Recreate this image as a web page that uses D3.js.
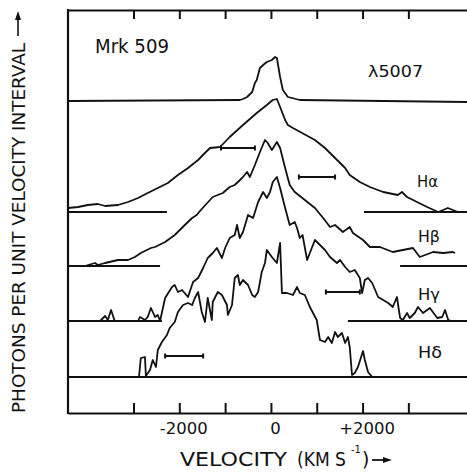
<!DOCTYPE html>
<html>
<head>
<meta charset="utf-8">
<script src="https://cdn.jsdelivr.net/npm/d3@7"></script>
<style>
  body { margin: 0; background: #fff; }
  text { font-family: "DejaVu Sans", sans-serif; fill: #111; }
</style>
</head>
<body>
<div id="chart"></div>
<script>
// Variables
var width = 467;
var height = 472;

// axis ticks (km/s)
var velocityTicks = [-3000, -2000, -1000, 0, 1000, 2000, 3000];
var labelledTicks = [-2000, 0, 2000];

// lines, top to bottom, and the vertical offset of each baseline (flux units)
var lineNames = ["λ5007", "Hα", "Hβ", "Hγ", "Hδ"];
var lineOffsets = [31.2, 20.1, 14.7, 9.2, 3.6];

// profiles: [velocity km/s, flux above baseline]
var o3Profile = [[-4430,0],[-680,0.1],[-610,0.2],[-520,0.4],[-410,0.9],[-350,1.8],[-310,2.1],[-240,3.3],
  [-170,3.6],[-90,3.9],[20,4.1],[90,4.4],[130,4.3],[200,2.4],[260,1.1],[370,0.4],[460,0.3],[630,0.1],[4280,-0.1]];

var haProfile = [[-4430,0.4],[-4210,0.5],[-4000,0.7],[-3780,0.8],[-3620,0.6],[-3340,0.7],[-3120,1.0],[-2900,1.4],
  [-2690,1.9],[-2470,2.4],[-2250,2.9],[-2030,3.7],[-1810,4.4],[-1590,5.2],[-1420,6.0],[-1330,6.4],[-1110,6.5],
  [-900,7.5],[-610,8.7],[-310,9.9],[-90,10.7],[40,11.2],[130,11.3],[200,10.5],[310,9.2],[370,8.7],[480,8.4],
  [680,7.9],[960,7.2],[1180,6.4],[1400,5.4],[1620,4.4],[1720,3.7],[1940,3.0],[2160,2.5],[2450,2.0],[2770,1.7],
  [2860,2.0],[2970,1.5],[3190,1.0],[3410,0.5],[3650,0.0],[3760,0.2],[3860,0.4],[3970,0.2],[4080,0.0]];

var hbProfile = [[-4060,0],[-3840,0.3],[-3780,0.1],[-3620,0.3],[-3340,0.6],[-3120,0.6],[-2970,0.9],[-2840,1.3],
  [-2620,1.8],[-2530,1.9],[-2310,2.4],[-2100,3.1],[-1880,4.1],[-1720,4.8],[-1620,5.1],[-1530,5.6],[-1270,6.9],
  [-1050,7.3],[-900,7.9],[-790,8.1],[-630,8.8],[-520,9.4],[-460,8.9],[-350,10.1],[-240,11.4],[-130,12.6],
  [-70,12.3],[20,11.6],[130,12.4],[200,11.8],[310,9.8],[410,8.1],[520,7.4],[740,6.6],[960,5.8],[1140,4.8],
  [1290,3.9],[1400,4.1],[1570,3.4],[1720,3.9],[1790,3.3],[2010,2.6],[2160,1.9],[2380,1.9],[2660,1.4],
  [2880,1.6],[3100,1.8],[3250,0.9],[3540,1.4],[3760,1.3],[3970,1.4],[4020,1.3]];

var hgProfile = [[-4430,0],[-3730,0],[-3620,0.5],[-3560,0.1],[-3490,1.1],[-3410,0],[-2900,0],[-2860,0.4],
  [-2750,0.1],[-2690,0.4],[-2620,1.3],[-2530,0.4],[-2470,0.6],[-2420,0],[-2310,2.3],[-2160,3.4],[-2100,3.6],
  [-2030,2.9],[-1940,3.1],[-1810,2.4],[-1700,3.9],[-1590,4.3],[-1480,5.3],[-1380,6.3],[-1270,6.8],[-1180,7.3],
  [-1070,6.3],[-1000,7.3],[-900,8.3],[-790,8.6],[-740,9.6],[-680,8.3],[-610,8.9],[-500,10.6],[-390,10.3],
  [-280,11.9],[-170,12.9],[-90,12.3],[-20,12.9],[40,13.9],[130,14.4],[200,13.3],[310,11.3],[410,9.6],[520,9.9],
  [570,9.3],[630,8.3],[690,8.6],[790,6.1],[960,8.1],[1070,7.6],[1180,7.1],[1290,6.4],[1440,5.8],[1510,6.1],
  [1620,5.4],[1720,4.9],[1830,5.1],[1940,4.3],[1990,2.8],[2050,4.1],[2120,4.3],[2210,3.8],[2340,2.4],[2450,2.1],
  [2560,1.8],[2660,1.4],[2750,2.4],[2820,0.3],[2880,0.1],[2970,0.8],[3030,0.3],[3140,0.8],[3210,1.4],[3320,0.8],
  [3470,1.3],[3630,0.3],[3740,0.4],[3800,1.1],[3870,0.1],[3950,0]];

var hdProfile = [[-2880,0],[-2840,1.9],[-2750,2.0],[-2730,0.1],[-2640,0.7],[-2580,1.7],[-2510,1.0],[-2470,2.7],
  [-2380,3.5],[-2270,4.2],[-2210,4.9],[-2100,5.5],[-2030,6.5],[-1920,7.2],[-1810,7.4],[-1720,7.2],[-1660,7.9],
  [-1590,8.5],[-1510,6.5],[-1440,5.5],[-1380,7.9],[-1290,5.7],[-1270,7.5],[-1160,8.5],[-1070,8.2],[-960,7.2],
  [-940,6.2],[-850,7.2],[-790,9.9],[-720,10.2],[-680,9.2],[-610,9.7],[-500,9.2],[-410,8.2],[-350,8.0],[-280,8.5],
  [-200,10.5],[-130,11.4],[-90,12.7],[20,12.0],[130,11.4],[200,13.4],[240,8.4],[350,8.4],[480,8.2],[570,9.0],
  [630,8.4],[740,8.2],[850,7.0],[1000,5.7],[1070,3.7],[1180,3.5],[1250,4.0],[1330,3.4],[1400,4.5],[1460,4.0],
  [1550,4.4],[1620,3.4],[1680,4.0],[1720,3.0],[1770,0.2],[1830,0.4],[1900,1.0],[2010,2.6],[2050,1.7],[2120,0.5],
  [2210,0]];

var profiles = [o3Profile, haProfile, hbProfile, hgProfile, hdProfile];

// drawn continuum levels: [line index, from, to]
var baselines = [[1,-4430,-2270],[1,2030,4280],[2,-4430,-2420],[2,2820,4280],
  [3,-4430,-2380],[3,1680,4280],[4,-4430,4280]];

// resolution bars: [line index, from, to, flux]
var errorBars = [[1,-1090,-350,6.4],[1,610,1400,3.5],[3,1200,1940,2.9],[4,-2310,-1480,2.1]];

// where each line name sits: [velocity, flux above baseline]
var nameSpots = [[2120,2.4],[3190,2.5],[3210,2.4],[3210,2.1],[3210,1.9]];

var x = d3.scaleLinear()
    .domain([-4430, 4280])
    .range([68, 467]);

var y = d3.scaleLinear()
    .domain([0, 40.3])
    .range([413, 10]);

var svg = d3.select('#chart').append("svg")
    .attr("width", width)
    .attr("height", height);

// frame: bottom axis, top axis, left edge
var bottomAxis = d3.axisBottom(x)
    .tickValues(velocityTicks)
    .tickSize(-10)
    .tickSizeOuter(0)
    .tickPadding(9)
    .tickFormat(function(d) {
      if (labelledTicks.indexOf(d) < 0) return "";
      return d > 0 ? "+" + d : "" + d;
    });

var gb = svg.append("g")
    .attr("transform", "translate(0," + y(0) + ")")
    .call(bottomAxis);
gb.selectAll("text")
    .attr("dx", 4)
    .style("font-size", "16.5px")
    .style("font-family", "DejaVu Sans");

var gt = svg.append("g")
    .attr("transform", "translate(0," + y(40.3) + ")")
    .call(d3.axisTop(x).tickValues(velocityTicks).tickSize(-9).tickSizeOuter(0).tickFormat(""));

svg.selectAll(".domain").attr("stroke", "#111").attr("stroke-width", 2.2);
svg.selectAll(".tick line").attr("stroke", "#111").attr("stroke-width", 2);

svg.append("line")
    .attr("x1", x(-4430)).attr("x2", x(-4430))
    .attr("y1", y(40.3) - 1).attr("y2", y(0) + 1)
    .attr("stroke", "#111").attr("stroke-width", 2.2);

// baselines
svg.selectAll(".base")
    .data(baselines)
  .enter().append("line")
    .attr("class", "base")
    .attr("x1", function(d) { return x(d[1]); })
    .attr("x2", function(d) { return x(d[2]); })
    .attr("y1", function(d) { return y(lineOffsets[d[0]]); })
    .attr("y2", function(d) { return y(lineOffsets[d[0]]); })
    .attr("stroke", "#111")
    .attr("stroke-width", 2);

// spectra
profiles.forEach(function(p, i) {
  var line = d3.line()
      .x(function(d) { return x(d[0]); })
      .y(function(d) { return y(lineOffsets[i] + d[1]); });
  svg.append("path")
      .datum(p)
      .attr("d", line)
      .attr("fill", "none")
      .attr("stroke", "#111")
      .attr("stroke-width", 1.8)
      .attr("stroke-linejoin", "round");
});

// resolution bars with end caps
errorBars.forEach(function(b) {
  var yy = y(lineOffsets[b[0]] + b[3]);
  var g = svg.append("g").attr("stroke", "#111");
  g.append("line").attr("x1", x(b[1])).attr("x2", x(b[2])).attr("y1", yy).attr("y2", yy).attr("stroke-width", 2);
  [b[1], b[2]].forEach(function(v) {
    g.append("line").attr("x1", x(v)).attr("x2", x(v)).attr("y1", yy - 2.5).attr("y2", yy + 2.5).attr("stroke-width", 2);
  });
});

// line names
var nameWidths = [55, 21, 22, 22, 24];
svg.selectAll(".name")
    .data(lineNames)
  .enter().append("text")
    .attr("class", "name")
    .attr("x", function(d, i) { return x(nameSpots[i][0]); })
    .attr("y", function(d, i) { return y(lineOffsets[i] + nameSpots[i][1]); })
    .attr("textLength", function(d, i) { return nameWidths[i]; })
    .attr("lengthAdjust", "spacingAndGlyphs")
    .style("font-size", "16.5px")
    .text(function(d) { return d; });

svg.append("text")
    .attr("x", 95).attr("y", 53)
    .attr("textLength", 74).attr("lengthAdjust", "spacingAndGlyphs")
    .style("font-size", "19.5px")
    .text("Mrk 509");

// y title with arrow
svg.append("text")
    .attr("transform", "translate(25,413) rotate(-90)")
    .attr("textLength", 370).attr("lengthAdjust", "spacingAndGlyphs")
    .style("font-size", "17.5px")
    .text("PHOTONS PER UNIT VELOCITY INTERVAL");
svg.append("line").attr("x1", 18).attr("x2", 18).attr("y1", 36).attr("y2", 16)
    .attr("stroke", "#111").attr("stroke-width", 1.6);
svg.append("path").attr("d", "M18,11L15,20L21,20Z").attr("fill", "#111");

// x title with arrow
svg.append("text").attr("x", 180).attr("y", 466)
    .attr("textLength", 107).attr("lengthAdjust", "spacingAndGlyphs")
    .style("font-size", "20px").text("VELOCITY");
svg.append("text").attr("x", 297).attr("y", 466)
    .attr("textLength", 49).attr("lengthAdjust", "spacingAndGlyphs")
    .style("font-size", "19px").text("(KM S");
svg.append("text").attr("x", 351).attr("y", 453)
    .style("font-size", "10px").text("-1");
svg.append("text").attr("x", 362).attr("y", 466)
    .style("font-size", "19px").text(")");
svg.append("line").attr("x1", 372).attr("x2", 386).attr("y1", 460).attr("y2", 460)
    .attr("stroke", "#111").attr("stroke-width", 1.8);
svg.append("path").attr("d", "M392,460L383,457L383,463Z").attr("fill", "#111");
</script>
</body>
</html>
